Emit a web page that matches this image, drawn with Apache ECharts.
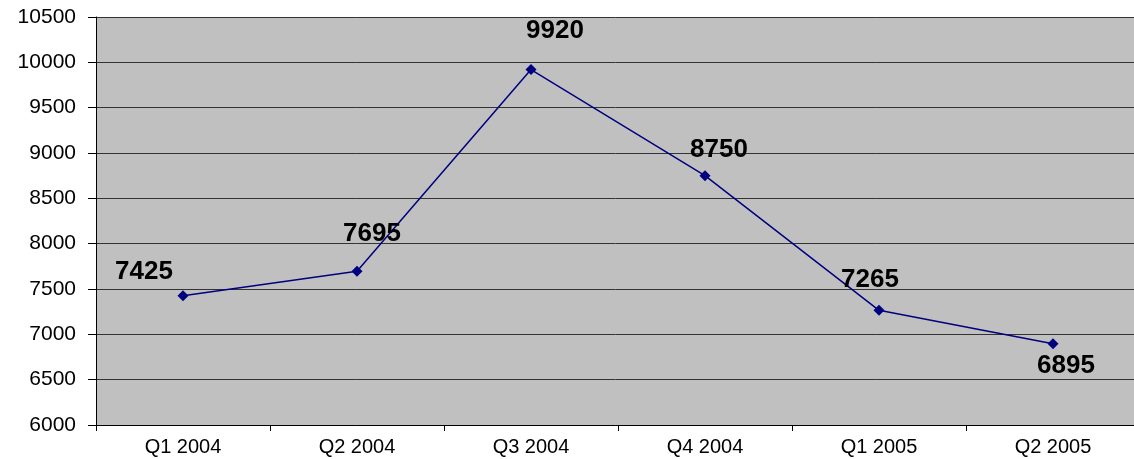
<!DOCTYPE html>
<html>
<head>
<meta charset="utf-8">
<script src="https://cdn.jsdelivr.net/npm/echarts@6/dist/echarts.min.js"></script>
<style>
  html, body { margin: 0; padding: 0; background: #fff; }
  #chart { width: 1134px; height: 459px; }
</style>
</head>
<body>
<div id="chart"></div>
<script>
const categories = ['Q1 2004', 'Q2 2004', 'Q3 2004', 'Q4 2004', 'Q1 2005', 'Q2 2005'];
const values = [7425, 7695, 9920, 8750, 7265, 6895];
// where each value label sits relative to its point
const labelOffsets = [[-39, -24], [15, -37], [24, -39], [14, -26], [-9, -30], [13, 22]];

const chart = echarts.init(document.getElementById('chart'));

chart.setOption({
  animation: false,
  grid: {
    left: 96,
    top: 17,
    width: 1044,
    height: 408,
    outerBoundsMode: 'none',
    show: true,
    backgroundColor: '#c0c0c0',
    borderWidth: 0,
  },
  xAxis: {
    type: 'category',
    data: categories,
    boundaryGap: true,
    axisLine: { lineStyle: { color: '#000', width: 1 } },
    axisTick: { show: true, length: 6, lineStyle: { color: '#000' } },
    axisLabel: {
      color: '#000',
      fontFamily: 'Liberation Sans, Arial, sans-serif',
      fontSize: 20,
      margin: 12,
    },
  },
  yAxis: {
    type: 'value',
    min: 6000,
    max: 10500,
    interval: 500,
    axisLine: { show: true, lineStyle: { color: '#000', width: 1 } },
    axisTick: { show: true, length: 8, lineStyle: { color: '#000' } },
    axisLabel: {
      color: '#000',
      fontFamily: 'Liberation Sans, Arial, sans-serif',
      fontSize: 21,
      margin: 20,
      formatter: (v) => String(v),
    },
    splitLine: { show: true, lineStyle: { color: '#333', width: 1 } },
  },
  series: [
    {
      type: 'line',
      data: values.map((v, i) => ({
        value: v,
        label: { offset: labelOffsets[i] },
      })),
      symbol: 'diamond',
      symbolSize: 11,
      showAllSymbol: true,
      lineStyle: { color: '#000080', width: 1.5 },
      itemStyle: { color: '#000080' },
      label: {
        show: true,
        position: 'inside',
        color: '#000',
        fontFamily: 'Liberation Sans, Arial, sans-serif',
        fontWeight: 'bold',
        fontSize: 26,
      },
    },
  ],
});
</script>
</body>
</html>
